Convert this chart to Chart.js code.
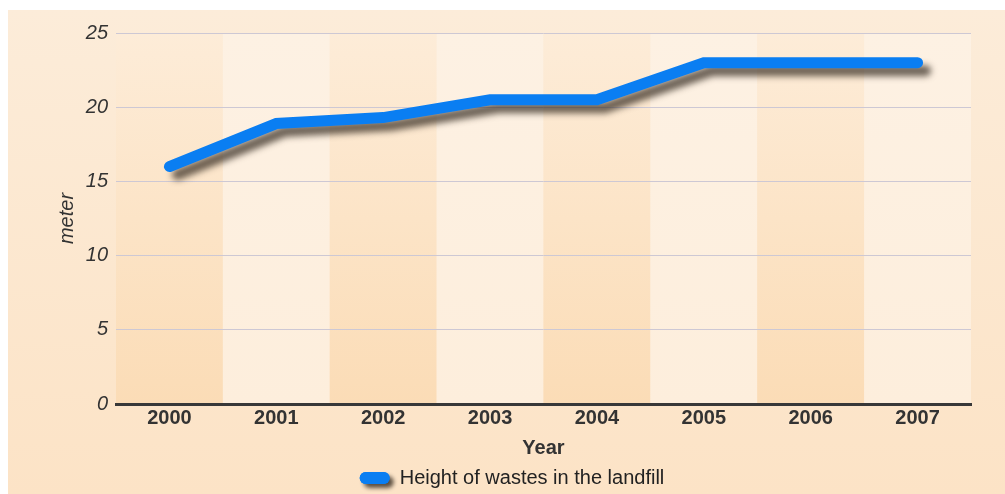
<!DOCTYPE html>
<html>
<head>
<meta charset="utf-8">
<script src="https://cdn.jsdelivr.net/npm/chart.js@4/dist/chart.umd.min.js"></script>
<style>
  html, body { margin: 0; padding: 0; background: #ffffff; }
  #wrap { position: relative; width: 1005px; height: 494px; }
</style>
</head>
<body>
<div id="wrap"><canvas id="c" width="1005" height="494"></canvas></div>
<script>
// Landfill waste height by year
const years = ['2000', '2001', '2002', '2003', '2004', '2005', '2006', '2007'];
const heights = [16, 18.9, 19.3, 20.5, 20.5, 23, 23, 23];
const yTicks = [0, 5, 10, 15, 20, 25];
const seriesName = 'Height of wastes in the landfill';

const BLUE = '#0a7ef2';
const FONT = '"Liberation Sans", Arial, sans-serif';

// Panel background, alternating column bands and legend-pill shadow
const backdrop = {
  id: 'backdrop',
  beforeDraw(chart) {
    const { ctx, chartArea: a, scales: { x } } = chart;
    ctx.save();
    ctx.fillStyle = '#ffffff';
    ctx.fillRect(0, 0, chart.width, chart.height);
    const bg = ctx.createLinearGradient(0, 10, 0, chart.height);
    bg.addColorStop(0, '#fcecd9');
    bg.addColorStop(1, '#fce3c6');
    ctx.fillStyle = bg;
    ctx.fillRect(8, 10, chart.width - 8, chart.height - 10);

    const dark = ctx.createLinearGradient(0, a.top, 0, a.bottom);
    dark.addColorStop(0, '#fdecd8');
    dark.addColorStop(1, '#fbdcb6');
    const light = ctx.createLinearGradient(0, a.top, 0, a.bottom);
    light.addColorStop(0, '#fdf1e3');
    light.addColorStop(1, '#fdeedc');
    const step = a.width / years.length;
    years.forEach((_, i) => {
      const cx = x.getPixelForValue(i);
      ctx.fillStyle = i % 2 === 0 ? dark : light;
      ctx.fillRect(cx - step / 2, a.top, step, a.bottom - a.top);
    });

    const hit = chart.legend && chart.legend.legendHitBoxes && chart.legend.legendHitBoxes[0];
    if (hit) {
      const bw = chart.options.plugins.legend.labels.boxWidth;
      const bh = chart.options.plugins.legend.labels.boxHeight;
      const top = hit.top + (hit.height - bh) / 2;
      ctx.shadowColor = 'rgba(50,40,30,0.8)';
      ctx.shadowOffsetX = 4;
      ctx.shadowOffsetY = 4;
      ctx.shadowBlur = 4;
      ctx.fillStyle = BLUE;
      ctx.beginPath();
      ctx.roundRect(hit.left, top, bw, bh, bh / 2);
      ctx.fill();
    }
    ctx.restore();
  }
};

// Soft drop shadow under the data line
const lineShadow = {
  id: 'lineShadow',
  beforeDatasetDraw(chart) {
    const ctx = chart.ctx;
    ctx.save();
    ctx.shadowColor = 'rgba(50,40,30,0.7)';
    ctx.shadowOffsetX = 8;
    ctx.shadowOffsetY = 8;
    ctx.shadowBlur = 6;
  },
  afterDatasetDraw(chart) {
    chart.ctx.restore();
  }
};

new Chart(document.getElementById('c'), {
  type: 'line',
  data: {
    labels: years,
    datasets: [{
      label: seriesName,
      data: heights,
      borderColor: BLUE,
      backgroundColor: BLUE,
      borderWidth: 11,
      borderCapStyle: 'round',
      borderJoinStyle: 'miter',
      pointRadius: 0,
      tension: 0,
      fill: false
    }]
  },
  options: {
    responsive: false,
    animation: false,
    devicePixelRatio: 1,
    layout: { padding: { left: 19, right: 0, top: 33, bottom: -4 } },
    plugins: {
      tooltip: { enabled: false },
      legend: {
        position: 'bottom',
        labels: {
          boxWidth: 30,
          boxHeight: 12,
          useBorderRadius: true,
          borderRadius: 6,
          padding: 6,
          color: '#222222',
          font: { family: FONT, size: 20 },
          generateLabels(chart) {
            const items = Chart.defaults.plugins.legend.labels.generateLabels(chart);
            items.forEach(it => { it.lineWidth = 0; it.fillStyle = BLUE; it.strokeStyle = BLUE; });
            return items;
          }
        }
      }
    },
    scales: {
      x: {
        offset: true,
        grid: { display: false, drawTicks: false },
        border: { display: true, color: '#383838', width: 3 },
        ticks: {
          color: '#333333',
          padding: 2,
          font: { family: FONT, size: 20, weight: 'bold' }
        },
        title: {
          display: true,
          text: 'Year',
          color: '#333333',
          padding: { top: 4, bottom: 2 },
          font: { family: FONT, size: 20, weight: 'bold' }
        }
      },
      y: {
        min: 0,
        max: 25,
        afterBuildTicks(scale) { scale.ticks = yTicks.map(v => ({ value: v })); },
        afterFit(scale) { scale.width = 97; },
        grid: { color: '#cdc8d4', lineWidth: 1, drawTicks: false },
        border: { display: false },
        ticks: {
          color: '#333333',
          padding: 8,
          font: { family: FONT, size: 20, style: 'italic' }
        },
        title: {
          display: true,
          text: 'meter',
          color: '#333333',
          padding: { top: 36, bottom: 0 },
          font: { family: FONT, size: 20, style: 'italic' }
        }
      },
      // empty right-hand gutter between the plot and the panel edge
      gutter: {
        type: 'linear',
        position: 'right',
        min: 0,
        max: 25,
        afterFit(scale) { scale.width = 34; },
        grid: { display: false, drawTicks: false },
        border: { display: false },
        ticks: { display: false }
      }
    }
  },
  plugins: [backdrop, lineShadow]
});
</script>
</body>
</html>
